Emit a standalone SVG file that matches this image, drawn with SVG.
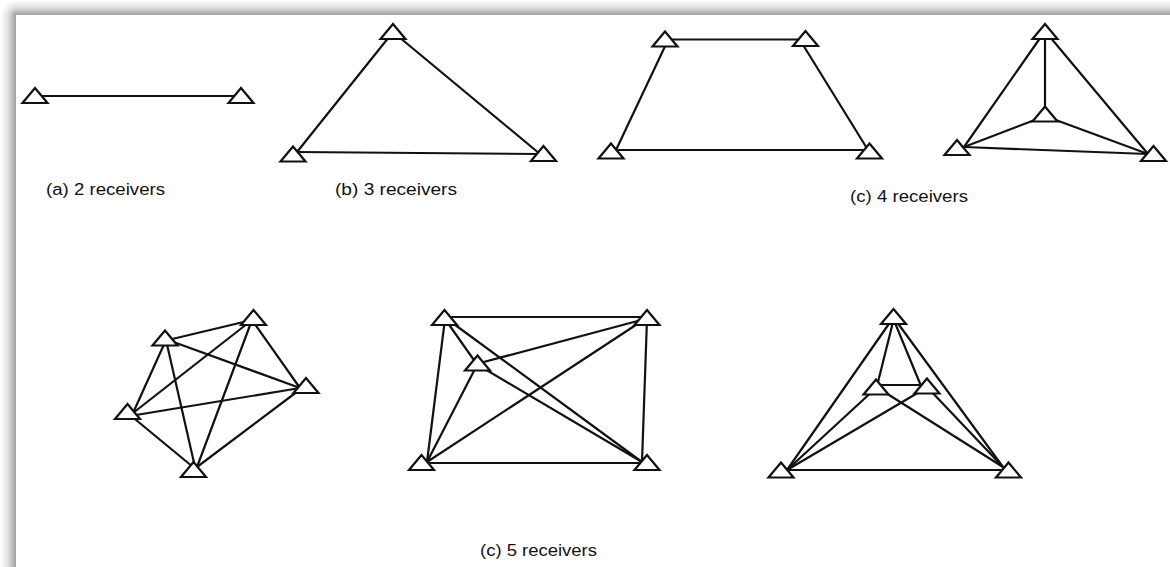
<svg xmlns="http://www.w3.org/2000/svg" xmlns:xlink="http://www.w3.org/1999/xlink" width="1170" height="567" viewBox="0 0 1170 567">
  <style>
    .edge { stroke: #111; stroke-width: 2.2; fill: none; stroke-linecap: round; }
    .rx { fill: #fff; stroke: #111; stroke-width: 2.2; stroke-linejoin: miter; }
    .lbl { font-family: "Liberation Sans", Arial, sans-serif; font-size: 16px; fill: #111; }
  </style>
  <defs>
    <path id="tri" d="M0,-7.5 L12.5,7.5 L-12.5,7.5 Z"/>
    <linearGradient id="shTop" x1="0" y1="0" x2="0" y2="1">
      <stop offset="0" stop-color="#ffffff"/>
      <stop offset="0.5" stop-color="#e0e0e0"/>
      <stop offset="1" stop-color="#a0a0a0"/>
    </linearGradient>
    <linearGradient id="shLeft" x1="0" y1="0" x2="1" y2="0">
      <stop offset="0" stop-color="#ffffff"/>
      <stop offset="0.5" stop-color="#e0e0e0"/>
      <stop offset="1" stop-color="#a0a0a0"/>
    </linearGradient>
    <radialGradient id="shCorner" cx="16" cy="15" r="15" gradientUnits="userSpaceOnUse">
      <stop offset="0" stop-color="#a0a0a0"/>
      <stop offset="0.5" stop-color="#e0e0e0"/>
      <stop offset="1" stop-color="#ffffff"/>
    </radialGradient>
  </defs>

  <g id="page">
    <rect x="0" y="0" width="1170" height="567" fill="#ffffff"/>
    <rect x="16" y="0" width="1154" height="15" fill="url(#shTop)"/>
    <rect x="0" y="15" width="16" height="552" fill="url(#shLeft)"/>
    <rect x="0" y="0" width="16" height="15" fill="url(#shCorner)"/>
  </g>

  <g id="connectors">
    <!-- (a) -->
    <line class="edge" x1="35" y1="96" x2="241" y2="96"/>
    <!-- (b) -->
    <line class="edge" x1="393" y1="32" x2="297" y2="152"/>
    <line class="edge" x1="393" y1="32" x2="540" y2="154"/>
    <line class="edge" x1="297" y1="152" x2="540" y2="154"/>
    <!-- (c) 4 trapezoid -->
    <line class="edge" x1="668" y1="39.5" x2="801" y2="39.5"/>
    <line class="edge" x1="668" y1="40" x2="616" y2="150"/>
    <line class="edge" x1="800" y1="40" x2="868" y2="150"/>
    <line class="edge" x1="616" y1="150" x2="868" y2="150"/>
    <!-- (c) 4 star -->
    <line class="edge" x1="1045" y1="31" x2="1045" y2="114"/>
    <line class="edge" x1="1045" y1="31" x2="964" y2="147"/>
    <line class="edge" x1="1045" y1="31" x2="1148" y2="154"/>
    <line class="edge" x1="1045" y1="116" x2="964" y2="147"/>
    <line class="edge" x1="1045" y1="116" x2="1148" y2="154"/>
    <line class="edge" x1="964" y1="147" x2="1148" y2="154"/>
    <!-- (c) 5 pentagon -->
    <line class="edge" x1="168" y1="340" x2="252" y2="320"/>
    <line class="edge" x1="168" y1="340" x2="300" y2="388"/>
    <line class="edge" x1="166" y1="340" x2="133" y2="413"/>
    <line class="edge" x1="166" y1="340" x2="195" y2="467"/>
    <line class="edge" x1="252" y1="320" x2="133" y2="413"/>
    <line class="edge" x1="252" y1="320" x2="197" y2="467"/>
    <line class="edge" x1="252" y1="320" x2="300" y2="388"/>
    <line class="edge" x1="300" y1="388" x2="136" y2="415"/>
    <line class="edge" x1="302" y1="388" x2="197" y2="467"/>
    <line class="edge" x1="130" y1="415" x2="193" y2="467"/>
    <!-- (c) 5 rectangle -->
    <line class="edge" x1="445" y1="317" x2="646" y2="317"/>
    <line class="edge" x1="445" y1="319" x2="427" y2="462"/>
    <line class="edge" x1="445" y1="319" x2="476" y2="363"/>
    <line class="edge" x1="447" y1="319" x2="642" y2="462"/>
    <line class="edge" x1="645" y1="319" x2="480" y2="363"/>
    <line class="edge" x1="645" y1="319" x2="427" y2="462"/>
    <line class="edge" x1="647" y1="319" x2="642" y2="462"/>
    <line class="edge" x1="477" y1="365" x2="427" y2="462"/>
    <line class="edge" x1="478" y1="365" x2="642" y2="462"/>
    <line class="edge" x1="427" y1="463" x2="642" y2="463"/>
    <!-- (c) 5 triangle -->
    <line class="edge" x1="893" y1="318" x2="787" y2="470"/>
    <line class="edge" x1="894" y1="318" x2="1003" y2="467"/>
    <line class="edge" x1="894" y1="318" x2="877" y2="386"/>
    <line class="edge" x1="893" y1="318" x2="921" y2="386"/>
    <line class="edge" x1="877" y1="385" x2="925" y2="385"/>
    <line class="edge" x1="878" y1="388" x2="1003" y2="467"/>
    <line class="edge" x1="926" y1="388" x2="787" y2="470"/>
    <line class="edge" x1="876" y1="388" x2="787" y2="470"/>
    <line class="edge" x1="928" y1="388" x2="1003" y2="467"/>
    <line class="edge" x1="787" y1="470" x2="1003" y2="470"/>
  </g>

  <g id="a-r1"><use href="#tri" class="rx" x="35" y="95.5"/></g>
  <g id="a-r2"><use href="#tri" class="rx" x="241" y="95.5"/></g>

  <g id="b-r1"><use href="#tri" class="rx" x="393" y="31.5"/></g>
  <g id="b-r2"><use href="#tri" class="rx" x="293" y="154"/></g>
  <g id="b-r3"><use href="#tri" class="rx" x="543.5" y="153.5"/></g>

  <g id="c4a-r1"><use href="#tri" class="rx" x="665" y="39"/></g>
  <g id="c4a-r2"><use href="#tri" class="rx" x="805.5" y="38.5"/></g>
  <g id="c4a-r3"><use href="#tri" class="rx" x="611" y="151"/></g>
  <g id="c4a-r4"><use href="#tri" class="rx" x="869.5" y="151"/></g>

  <g id="c4b-r1"><use href="#tri" class="rx" x="1045" y="31.5"/></g>
  <g id="c4b-r2"><use href="#tri" class="rx" x="1045" y="114"/></g>
  <g id="c4b-r3"><use href="#tri" class="rx" x="957" y="147.5"/></g>
  <g id="c4b-r4"><use href="#tri" class="rx" x="1153.5" y="153.5"/></g>

  <g id="c5a-r1"><use href="#tri" class="rx" x="165" y="338"/></g>
  <g id="c5a-r2"><use href="#tri" class="rx" x="253.5" y="317.5"/></g>
  <g id="c5a-r3"><use href="#tri" class="rx" x="306" y="385.5"/></g>
  <g id="c5a-r4"><use href="#tri" class="rx" x="127.5" y="411.5"/></g>
  <g id="c5a-r5"><use href="#tri" class="rx" x="193.5" y="469.5"/></g>

  <g id="c5b-r1"><use href="#tri" class="rx" x="444.5" y="317.5"/></g>
  <g id="c5b-r2"><use href="#tri" class="rx" x="647" y="317.5"/></g>
  <g id="c5b-r3"><use href="#tri" class="rx" x="477.5" y="363"/></g>
  <g id="c5b-r4"><use href="#tri" class="rx" x="421.5" y="462.5"/></g>
  <g id="c5b-r5"><use href="#tri" class="rx" x="647" y="462.5"/></g>

  <g id="c5c-r1"><use href="#tri" class="rx" x="893.5" y="316.5"/></g>
  <g id="c5c-r2"><use href="#tri" class="rx" x="876" y="387"/></g>
  <g id="c5c-r3"><use href="#tri" class="rx" x="927" y="386"/></g>
  <g id="c5c-r4"><use href="#tri" class="rx" x="781" y="470"/></g>
  <g id="c5c-r5"><use href="#tri" class="rx" x="1008.5" y="470"/></g>

  <g id="labels">
    <text class="lbl" x="46" y="195" textLength="119" lengthAdjust="spacingAndGlyphs">(a) 2 receivers</text>
    <text class="lbl" x="335" y="195" textLength="122" lengthAdjust="spacingAndGlyphs">(b) 3 receivers</text>
    <text class="lbl" x="850" y="202" textLength="118" lengthAdjust="spacingAndGlyphs">(c) 4 receivers</text>
    <text class="lbl" x="480" y="556" textLength="117" lengthAdjust="spacingAndGlyphs">(c) 5 receivers</text>
  </g>
</svg>
